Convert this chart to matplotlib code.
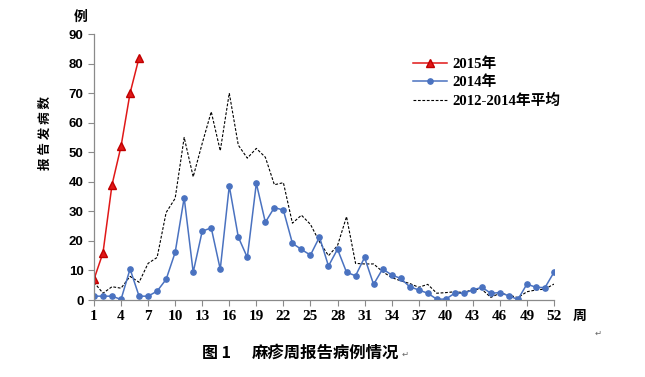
import matplotlib.pyplot as plt

weeks = list(range(1, 53))
weeks_2015 = [1, 2, 3, 4, 5, 6]
cases_2015 = [7, 16, 39, 52, 70, 82]

cases_2014 = [1.3, 1.3, 1.3, 0.2, 10.5, 1.3, 1.3, 3, 7, 16.1,
              34.6, 9.4, 23.3, 24.4, 10.4, 38.6, 21.3, 14.4, 39.5, 26.3,
              31.3, 30.4, 19.2, 17.1, 15.2, 21.3, 11.5, 17.2, 9.4, 8.2,
              14.4, 5.3, 10.5, 8.5, 7.3, 4.5, 3.4, 2.3, 0.3, 0.3,
              2.3, 2.3, 3.4, 4.3, 2.3, 2.5, 1.4, 0.2, 5.4, 4.3,
              4.2, 9.4]

avg_2012_2014 = [6, 2.3, 4.5, 4, 8, 6, 12.4, 14.4, 29.6, 34.4,
                 55, 41.7, 53, 63.7, 50.5, 70, 52.4, 48, 51.3, 48.3,
                 39, 39.7, 26, 28.7, 25.6, 19.7, 15, 18.4, 28.2, 12.4,
                 12.2, 12.2, 9.6, 7.6, 6.5, 5.6, 4.3, 5.3, 2.3, 2.5,
                 2.8, 2.5, 3.6, 3.6, 0.9, 2.3, 1.7, 0.8, 2.8, 3.4,
                 3.7, 5.4]

xticks = list(range(1, 53, 3))
yticks = list(range(0, 91, 10))

cjk = ['Noto Sans CJK SC', 'DejaVu Sans']

fig = plt.figure(figsize=(6.45, 3.77), dpi=100)
ax = fig.add_axes([0.1457, 0.2042, 0.7132, 0.7056])

ax.plot(weeks, avg_2012_2014, color='black', lw=0.8, ls=(0, (2.5, 1.5)),
        label='2012-2014年平均')
ax.plot(weeks, cases_2014, color='#4a72c0', lw=1.1, marker='o', ms=3.8,
        label='2014年')
ax.plot(weeks_2015, cases_2015, color='#e01818', lw=1.1, marker='^', ms=5.5,
        markeredgecolor='#c00000', label='2015年')

ax.set_xlim(1, 52)
ax.set_ylim(0, 90)
ax.set_xticks(xticks)
ax.set_yticks(yticks)
ax.spines['top'].set_visible(False)
ax.spines['right'].set_visible(False)
for s in ('left', 'bottom'):
    ax.spines[s].set_color('#8a8a8a')
    ax.spines[s].set_linewidth(0.9)
ax.tick_params(colors='#8a8a8a', length=4, width=0.8, labelcolor='black')
for lab in ax.get_xticklabels():
    lab.set_fontfamily('Liberation Serif')
    lab.set_fontweight('bold')
    lab.set_fontsize(11)
for lab in ax.get_yticklabels():
    lab.set_fontfamily('Liberation Sans')
    lab.set_fontweight('bold')
    lab.set_fontsize(9.5)

handles, labels = ax.get_legend_handles_labels()
order = [2, 1, 0]
leg = fig.legend([handles[i] for i in order], [labels[i] for i in order],
                 loc='upper left', bbox_to_anchor=(0.625, 0.875),
                 frameon=False, handlelength=2.3, handletextpad=0.35,
                 labelspacing=0.3, borderpad=0.2,
                 prop=dict(family=['Liberation Serif', 'Noto Sans CJK SC'],
                           weight='bold', size=10.6))

fig.text(0.070, 0.648, '报 告 发 病 数', family=cjk, weight='bold',
         fontsize=9, ha='center', va='center', rotation=90)
fig.text(0.125, 0.955, '例', family=cjk, weight='bold', fontsize=10,
         ha='center', va='center')
fig.text(0.899, 0.162, '周', family=cjk, weight='bold', fontsize=10,
         ha='center', va='center')
fig.text(0.927, 0.116, '↵', family='DejaVu Sans', fontsize=6,
         color='#666666', ha='center', va='center')

fig.text(0.313, 0.064, '图 1', family=cjk, weight='bold', fontsize=11.5,
         ha='left', va='center')
fig.text(0.391, 0.064, '麻疹周报告病例情况', family=cjk, weight='bold',
         fontsize=11.8, ha='left', va='center')
fig.text(0.622, 0.060, '↵', family='DejaVu Sans', fontsize=6,
         color='#666666', ha='left', va='center')

fig.savefig('out.png', dpi=100, facecolor='white')
